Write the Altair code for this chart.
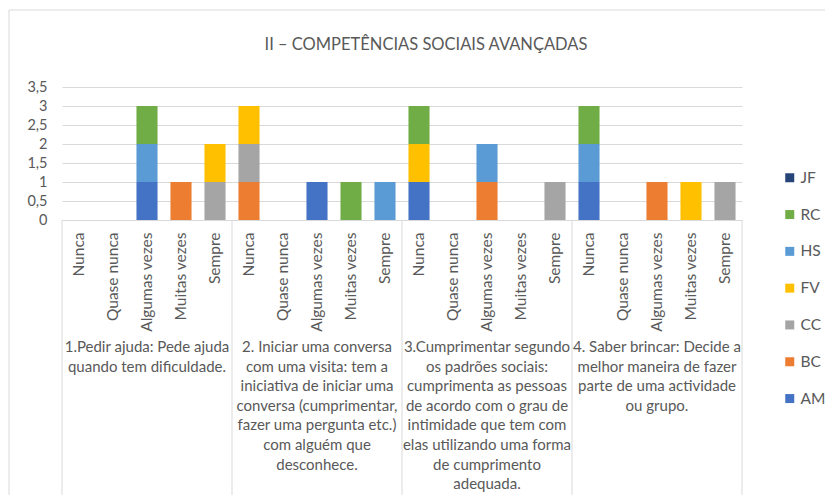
import altair as alt
import pandas as pd

title = "II – COMPETÊNCIAS SOCIAIS AVANÇADAS"
categories = ["Nunca", "Quase nunca", "Algumas vezes", "Muitas vezes", "Sempre"]
group_labels = [
    "1.Pedir ajuda: Pede ajuda\nquando tem dificuldade.",
    "2. Iniciar uma conversa\ncom uma visita: tem a\niniciativa de iniciar uma\nconversa (cumprimentar,\nfazer uma pergunta etc.)\ncom alguém que\ndesconhece.",
    "3.Cumprimentar segundo\nos padrões sociais:\ncumprimenta as pessoas\nde acordo com o grau de\nintimidade que tem com\nelas utilizando uma forma\nde cumprimento\nadequada.",
    "4. Saber brincar: Decide a\nmelhor maneira de fazer\nparte de uma actividade\nou grupo.",
]
series = ["AM", "BC", "CC", "FV", "HS", "RC", "JF"]
colors = {"AM": "#4472C4", "BC": "#ED7D31", "CC": "#A5A5A5", "FV": "#FFC000",
          "HS": "#5B9BD5", "RC": "#70AD47", "JF": "#264478"}

# values: group-major, 5 categories per group
AM = [0, 0, 1, 0, 0,  0, 0, 1, 0, 0,  1, 0, 0, 0, 0,  1, 0, 0, 0, 0]
BC = [0, 0, 0, 1, 0,  1, 0, 0, 0, 0,  0, 0, 1, 0, 0,  0, 0, 1, 0, 0]
CC = [0, 0, 0, 0, 1,  1, 0, 0, 0, 0,  0, 0, 0, 0, 1,  0, 0, 0, 0, 1]
FV = [0, 0, 0, 0, 1,  1, 0, 0, 0, 0,  1, 0, 0, 0, 0,  0, 0, 0, 1, 0]
HS = [0, 0, 1, 0, 0,  0, 0, 0, 0, 1,  0, 0, 1, 0, 0,  1, 0, 0, 0, 0]
RC = [0, 0, 1, 0, 0,  0, 0, 0, 1, 0,  1, 0, 0, 0, 0,  1, 0, 0, 0, 0]
JF = [0, 0, 0, 0, 0,  0, 0, 0, 0, 0,  0, 0, 0, 0, 0,  0, 0, 0, 0, 0]
values = {"AM": AM, "BC": BC, "CC": CC, "FV": FV, "HS": HS, "RC": RC, "JF": JF}

keys = [f"{g}|{c}" for g in range(len(group_labels)) for c in categories]
rows = []
for si, s in enumerate(series):
    for i, k in enumerate(keys):
        v = values[s][i]
        if v:
            rows.append({"key": k, "series": s, "sidx": si, "value": v})
df = pd.DataFrame(rows)

legend_order = list(reversed(series))
FONT = "Lato"
TXT = "#595959"
GRID = "#D9D9D9"
W, H = 680, 133

bars = alt.Chart(df).mark_bar().encode(
    x=alt.X("key:N", sort=keys,
            scale=alt.Scale(domain=keys, paddingInner=0.38, paddingOuter=0.19),
            axis=alt.Axis(title=None, labelExpr="split(datum.label, '|')[1]",
                          labelAngle=-90, ticks=False, domainColor=GRID,
                          labelPadding=12, labelColor=TXT, labelFontSize=15.5,
                          labelFont=FONT)),
    y=alt.Y("value:Q", stack="zero",
            scale=alt.Scale(domain=[0, 3.5], nice=False),
            axis=alt.Axis(title=None, values=[0, 0.5, 1, 1.5, 2, 2.5, 3, 3.5],
                          labelExpr="replace(format(datum.value, '~g'), '.', ',')",
                          domain=False, ticks=False, gridColor=GRID,
                          labelPadding=15, labelColor=TXT, labelFontSize=14.5,
                          labelFont=FONT)),
    color=alt.Color("series:N",
                    scale=alt.Scale(domain=legend_order,
                                    range=[colors[s] for s in legend_order]),
                    legend=alt.Legend(title=None, orient="none", legendX=720,
                                      legendY=83, symbolType="square",
                                      symbolSize=81, symbolStrokeWidth=0,
                                      labelFontSize=15.5, labelFont=FONT,
                                      labelColor=TXT, rowPadding=19.8,
                                      labelOffset=3, padding=0)),
    order=alt.Order("sidx:Q", sort="ascending"),
)

gscale = alt.Scale(domain=[0, len(group_labels)], nice=False, zero=False)
sep_df = pd.DataFrame({"g": list(range(len(group_labels) + 1))})
seps = alt.Chart(sep_df).mark_rule(color=GRID, strokeWidth=1).encode(
    x=alt.X("g:Q", scale=gscale, axis=None),
    y=alt.value(H), y2=alt.value(H + 276),
)

gl_df = pd.DataFrame({"g": [i + 0.5 for i in range(len(group_labels))],
                      "label": group_labels})
glabels = alt.Chart(gl_df).mark_text(
    lineBreak="\n", baseline="top", align="center", fontSize=15,
    font=FONT, color=TXT, lineHeight=19.6
).encode(
    x=alt.X("g:Q", scale=gscale, axis=None),
    y=alt.value(253),
    text="label:N",
)

title_df = pd.DataFrame({"t": [title]})
title_mark = alt.Chart(title_df).mark_text(
    font=FONT, fontSize=16.5, color=TXT, align="center", baseline="alphabetic"
).encode(x=alt.value(364), y=alt.value(-37), text="t:N")

dummy = pd.DataFrame({"a": [0]})
border_left = alt.Chart(dummy).mark_rule(color=GRID).encode(
    x=alt.value(-53), y=alt.value(-77), y2=alt.value(430))
border_top = alt.Chart(dummy).mark_rule(color=GRID).encode(
    x=alt.value(-53), x2=alt.value(780), y=alt.value(-77))

chart = alt.layer(border_left, border_top, title_mark, bars, seps, glabels).resolve_scale(
    x="independent"
).properties(
    width=W, height=H,
    padding={"left": 54, "top": 79, "right": 83, "bottom": 275},
    autosize=alt.AutoSizeParams(type="none"),
).configure_view(stroke="transparent")

chart.save("out.html", embed_options={"renderer": "svg", "actions": False})
